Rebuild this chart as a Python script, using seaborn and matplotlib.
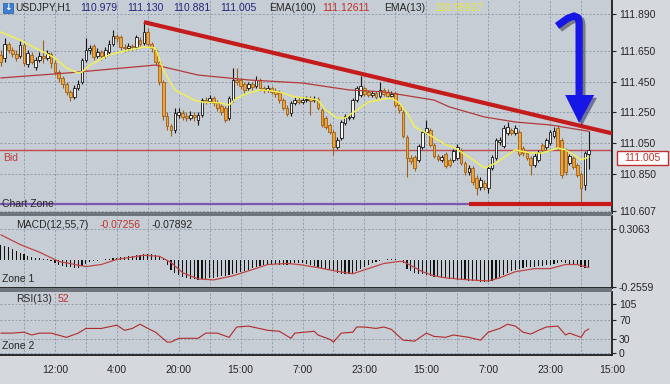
import numpy as np
import pandas as pd
import matplotlib
matplotlib.use("Agg")
import matplotlib.pyplot as plt
import matplotlib.patheffects as pe
from matplotlib.patches import Polygon, Rectangle
import seaborn as sns

# USDJPY H1 candles (index 0 = first visible bar)
opens = [
    111.624, 111.604, 111.695, 111.656, 111.630, 111.617, 111.688, 111.565, 111.624, 111.545,
    111.591, 111.617, 111.604, 111.630, 111.572, 111.513, 111.474, 111.435, 111.383, 111.350,
    111.409, 111.448, 111.591, 111.656, 111.682, 111.617, 111.643, 111.617, 111.643, 111.695,
    111.747, 111.741, 111.676, 111.669, 111.682, 111.676, 111.721, 111.702, 111.773, 111.695,
    111.656, 111.578, 111.448, 111.226, 111.161, 111.135, 111.233, 111.246, 111.226, 111.213,
    111.233, 111.200, 111.233, 111.330, 111.324, 111.343, 111.311, 111.291, 111.278, 111.213,
    111.330, 111.461, 111.461, 111.435, 111.409, 111.435, 111.422, 111.461, 111.409, 111.396,
    111.409, 111.389, 111.376, 111.330, 111.278, 111.246, 111.311, 111.330, 111.317, 111.330,
    111.343, 111.330, 111.337, 111.265, 111.213, 111.168, 111.122, 111.024, 111.083, 111.181,
    111.213, 111.220, 111.330, 111.363, 111.409, 111.383, 111.363, 111.376, 111.357, 111.396,
    111.383, 111.357, 111.376, 111.298, 111.252, 111.089, 110.953, 110.959, 110.940, 111.024,
    111.122, 111.135, 111.037, 110.966, 110.940, 110.979, 110.940, 110.940, 110.953, 111.005,
    110.920, 110.861, 110.887, 110.822, 110.764, 110.790, 110.757, 110.887, 110.953, 111.057,
    111.031, 111.115, 111.135, 111.115, 111.122, 111.018, 110.985, 110.953, 110.907, 110.940,
    111.037, 111.024, 111.050, 111.096, 111.148, 111.070, 111.005, 110.920, 110.953, 110.907,
    110.848, 110.777, 110.979,
]
closes = [
    111.578, 111.695, 111.656, 111.630, 111.604, 111.688, 111.572, 111.637, 111.578, 111.591,
    111.617, 111.604, 111.637, 111.572, 111.513, 111.474, 111.435, 111.383, 111.350, 111.409,
    111.435, 111.591, 111.656, 111.669, 111.611, 111.643, 111.617, 111.656, 111.695, 111.747,
    111.734, 111.676, 111.669, 111.682, 111.676, 111.741, 111.695, 111.773, 111.695, 111.669,
    111.578, 111.448, 111.226, 111.161, 111.135, 111.246, 111.252, 111.220, 111.213, 111.233,
    111.220, 111.233, 111.330, 111.324, 111.343, 111.311, 111.278, 111.252, 111.200, 111.343,
    111.461, 111.448, 111.422, 111.396, 111.435, 111.415, 111.461, 111.409, 111.396, 111.409,
    111.383, 111.370, 111.330, 111.278, 111.239, 111.311, 111.330, 111.317, 111.330, 111.337,
    111.324, 111.337, 111.278, 111.168, 111.155, 111.122, 111.024, 111.070, 111.187, 111.226,
    111.220, 111.330, 111.409, 111.422, 111.370, 111.363, 111.376, 111.350, 111.396, 111.370,
    111.357, 111.370, 111.298, 111.265, 111.096, 110.953, 110.933, 110.887, 111.031, 111.122,
    111.148, 111.037, 110.966, 110.946, 110.959, 110.901, 110.907, 110.998, 111.024, 110.920,
    110.861, 110.887, 110.796, 110.757, 110.809, 110.764, 110.887, 110.959, 111.070, 111.070,
    111.148, 111.155, 111.115, 111.148, 110.979, 110.985, 110.953, 110.907, 110.966, 110.992,
    111.005, 111.070, 111.122, 111.128, 111.018, 110.842, 110.861, 110.966, 110.894, 110.842,
    110.757, 110.985, 111.005,
]
highs = [
    111.656, 111.734, 111.708, 111.676, 111.656, 111.715, 111.702, 111.656, 111.643, 111.611,
    111.643, 111.721, 111.656, 111.643, 111.591, 111.526, 111.487, 111.448, 111.396, 111.428,
    111.461, 111.604, 111.734, 111.688, 111.695, 111.669, 111.656, 111.676, 111.721, 111.786,
    111.760, 111.754, 111.695, 111.702, 111.695, 111.754, 111.741, 111.838, 111.799, 111.708,
    111.669, 111.591, 111.461, 111.252, 111.174, 111.278, 111.278, 111.265, 111.252, 111.259,
    111.252, 111.252, 111.343, 111.350, 111.363, 111.357, 111.330, 111.304, 111.291, 111.357,
    111.539, 111.539, 111.474, 111.448, 111.448, 111.448, 111.487, 111.474, 111.422, 111.428,
    111.422, 111.409, 111.396, 111.343, 111.298, 111.324, 111.350, 111.350, 111.350, 111.357,
    111.357, 111.357, 111.350, 111.278, 111.226, 111.181, 111.135, 111.089, 111.200, 111.239,
    111.239, 111.343, 111.422, 111.487, 111.422, 111.396, 111.389, 111.389, 111.448, 111.409,
    111.402, 111.389, 111.389, 111.311, 111.265, 111.102, 110.972, 110.972, 111.044, 111.135,
    111.200, 111.148, 111.050, 110.979, 110.972, 110.992, 110.953, 111.011, 111.044, 111.018,
    110.933, 110.907, 110.901, 110.842, 110.829, 110.809, 110.907, 110.972, 111.083, 111.089,
    111.168, 111.187, 111.148, 111.168, 111.135, 111.031, 110.998, 110.966, 110.985, 111.005,
    111.050, 111.083, 111.135, 111.155, 111.168, 111.083, 111.018, 110.979, 110.966, 110.920,
    110.861, 110.998, 111.130,
]
lows = [
    111.552, 111.578, 111.637, 111.611, 111.585, 111.604, 111.552, 111.545, 111.565, 111.526,
    111.578, 111.572, 111.591, 111.539, 111.493, 111.448, 111.409, 111.363, 111.324, 111.337,
    111.396, 111.435, 111.578, 111.630, 111.591, 111.604, 111.591, 111.604, 111.624, 111.682,
    111.708, 111.656, 111.643, 111.656, 111.656, 111.663, 111.682, 111.688, 111.682, 111.643,
    111.558, 111.428, 111.200, 111.135, 111.096, 111.115, 111.213, 111.200, 111.194, 111.200,
    111.194, 111.168, 111.220, 111.304, 111.311, 111.291, 111.259, 111.233, 111.187, 111.200,
    111.317, 111.428, 111.402, 111.376, 111.396, 111.396, 111.409, 111.389, 111.376, 111.383,
    111.370, 111.350, 111.311, 111.265, 111.226, 111.226, 111.298, 111.304, 111.304, 111.317,
    111.233, 111.317, 111.265, 111.155, 111.141, 111.109, 110.972, 111.011, 111.070, 111.168,
    111.200, 111.207, 111.317, 111.350, 111.357, 111.350, 111.350, 111.337, 111.343, 111.357,
    111.343, 111.343, 111.285, 111.246, 111.083, 110.829, 110.914, 110.868, 110.927, 111.011,
    111.109, 111.024, 110.953, 110.933, 110.927, 110.887, 110.894, 110.927, 110.940, 110.907,
    110.842, 110.842, 110.777, 110.712, 110.744, 110.744, 110.725, 110.874, 110.940, 111.037,
    111.018, 111.102, 111.102, 111.102, 110.966, 110.966, 110.940, 110.842, 110.894, 110.927,
    110.992, 111.011, 111.037, 111.083, 111.005, 110.822, 110.842, 110.907, 110.881, 110.829,
    110.659, 110.744, 110.881,
]

# indicator lines (bar index, value)
ema13_idx = [0, 5, 11, 14, 17, 20, 21, 23, 28, 33, 37, 40, 42, 45, 50, 52, 57, 59, 61, 64,
             67, 70, 73, 76, 79, 82, 84, 87, 89, 92, 95, 99, 101, 103, 105, 107, 110, 113,
             115, 117, 121, 125, 128, 131, 133, 137, 140, 144, 146, 149, 150, 152]
ema13_vals = [111.773, 111.721, 111.643, 111.604, 111.539, 111.506, 111.513, 111.558, 111.624,
              111.656, 111.676, 111.669, 111.526, 111.396, 111.330, 111.317, 111.311, 111.298,
              111.343, 111.376, 111.396, 111.389, 111.376, 111.350, 111.343, 111.330, 111.265,
              111.213, 111.213, 111.265, 111.317, 111.337, 111.343, 111.311, 111.246, 111.155,
              111.115, 111.070, 111.037, 111.024, 110.959, 110.887, 110.920, 110.972, 111.005,
              110.985, 110.985, 111.018, 111.005, 110.959, 110.940, 110.959]
ema100_idx = [0, 17, 40, 51, 64, 78, 90, 99, 112, 116, 125, 133, 142, 150, 152]
ema100_vals = [111.474, 111.506, 111.558, 111.493, 111.461, 111.441, 111.396, 111.383, 111.330,
               111.285, 111.220, 111.187, 111.168, 111.135, 111.126]

macd_hist = [
    0.155, 0.145, 0.13, 0.11, 0.09, 0.075, 0.06, 0.045, 0.035, 0.025,
    0.02, 0.015, 0.01, -0.01, -0.03, -0.04, -0.05, -0.06, -0.065, -0.07,
    -0.07, -0.05, -0.035, -0.02, -0.01, -0.005, 0.005, 0.01, 0.015, 0.02,
    0.025, 0.03, 0.035, 0.04, 0.045, 0.05, 0.055, 0.06, 0.06, 0.06,
    0.055, 0.04, 0.02, -0.04, -0.09, -0.12, -0.14, -0.16, -0.17, -0.18,
    -0.185, -0.19, -0.185, -0.18, -0.175, -0.17, -0.16, -0.155, -0.15, -0.14,
    -0.13, -0.12, -0.11, -0.10, -0.09, -0.075, -0.06, -0.05, -0.045, -0.04,
    -0.04, -0.035, -0.04, -0.04, -0.04, -0.035, -0.03, -0.03, -0.03, -0.035,
    -0.04, -0.05, -0.06, -0.07, -0.08, -0.09, -0.10, -0.12, -0.13, -0.13,
    -0.13, -0.12, -0.10, -0.08, -0.06, -0.04, -0.03, -0.02, -0.01, 0.005,
    0.01, 0.01, 0.01, 0.005, -0.03, -0.08, -0.10, -0.12, -0.13, -0.135,
    -0.14, -0.15, -0.16, -0.165, -0.17, -0.175, -0.18, -0.185, -0.19, -0.19,
    -0.195, -0.2, -0.2, -0.205, -0.21, -0.21, -0.21, -0.2, -0.18, -0.16,
    -0.14, -0.12, -0.10, -0.09, -0.08, -0.07, -0.065, -0.06, -0.06, -0.055,
    -0.05, -0.045, -0.04, -0.035, -0.025, -0.02, -0.03, -0.035, -0.04, -0.045,
    -0.06, -0.07, -0.07,
]
signal_idx = [0, 5, 10, 15, 22, 26, 30, 37, 41, 44, 47, 51, 55, 60, 65, 69, 74, 77, 82, 86,
              91, 95, 99, 103, 104, 109, 112, 115, 121, 126, 129, 133, 138, 142, 146, 149, 152]
signal_vals = [0.25, 0.155, 0.08, -0.01, -0.06, -0.04, 0.01, 0.05, 0.04, -0.02, -0.12, -0.18,
               -0.19, -0.15, -0.09, -0.04, -0.03, -0.04, -0.07, -0.10, -0.13, -0.08, -0.03,
               -0.01, -0.01, -0.11, -0.15, -0.17, -0.19, -0.20, -0.17, -0.11, -0.08, -0.08,
               -0.04, -0.04, -0.07]

rsi_idx = [0, 3, 6, 8, 10, 13, 17, 20, 22, 26, 30, 32, 34, 36, 38, 40, 43, 44, 46, 51, 53,
           56, 59, 61, 64, 69, 72, 75, 76, 81, 82, 85, 86, 88, 91, 92, 94, 97, 99, 101, 102,
           104, 107, 110, 112, 115, 117, 121, 124, 126, 129, 131, 133, 135, 137, 139, 141,
           144, 146, 147, 150, 151, 152]
rsi_vals = [43, 43, 45, 39, 43, 43, 34, 43, 53, 53, 60, 49, 53, 62, 53, 45, 24, 24, 32, 32, 43,
            43, 34, 56, 58, 49, 47, 32, 43, 47, 39, 30, 24, 43, 45, 56, 56, 53, 56, 51, 43,
            28, 26, 43, 36, 34, 39, 34, 28, 45, 53, 62, 58, 45, 41, 49, 56, 58, 39, 43, 34,
            47, 52]

time_labels = ["12:00", "4:00", "20:00", "15:00", "7:00", "23:00", "15:00", "7:00", "23:00", "15:00"]
price_ticks = [111.890, 111.650, 111.450, 111.250, 111.050, 110.850, 110.607]
macd_ticks = [0.3063, -0.2559]
rsi_ticks = [105, 70, 30, 0]

bid_price = 111.005
zone_price = 110.655
trend_x = [37, 158]
trend_y = [111.838, 111.113]
support_x = [121, 158]

W, H = 670, 384
BG = "#c7cdd5"
GRID = "#8c97a6"
DARK = "#262626"
RED = "#c0302c"


def fpos(x, y):
    return x / W, 1 - y / H


def panel(top, bottom):
    a = fig.add_axes([0, 1 - bottom / H, 612 / W, (bottom - top) / H])
    a.set_facecolor(BG)
    for s in ["left", "top"]:
        a.spines[s].set_visible(False)
    for s in ["right", "bottom"]:
        a.spines[s].set_color("#1c1c1c")
        a.spines[s].set_linewidth(1.3)
    a.set_xlim(-0.2, 158)
    grid_pos = np.arange(6, 159, 8)
    a.set_xticks(grid_pos)
    a.grid(axis="both", ls=(0, (2.5, 2)), color=GRID, lw=0.6)
    a.yaxis.tick_right()
    a.tick_params(axis="y", length=3, width=0.8, pad=2, colors=DARK, labelsize=7.5)
    a.tick_params(axis="x", length=0, labelbottom=False)
    return a


sns.set_theme(style="white")
plt.rcParams["font.family"] = ["Liberation Sans", "DejaVu Sans"]
plt.rcParams["font.size"] = 7.5

fig = plt.figure(figsize=(W / 100, H / 100), dpi=100, facecolor="#d5d9de")

# dark separators between panels
for top, bottom in [(212, 216), (288, 292)]:
    fig.add_artist(Rectangle(fpos(0, bottom), 612 / W, (bottom - top) / H,
                             transform=fig.transFigure, fc="#6f757d", ec="none"))

ax = panel(0, 213)
ax_macd = panel(216, 288)
ax_rsi = panel(292, 355)

# ---- price panel ----
df = pd.DataFrame({"o": opens, "c": closes, "h": highs, "l": lows})
df["i"] = np.arange(len(df))
up = df["c"] >= df["o"]
edge = np.where(up, "#161616", "#9c6018")
ax.vlines(df["i"], df["l"], df["h"], colors=edge, lw=0.8, zorder=3)
ax.bar(df["i"], df["c"] - df["o"], bottom=df["o"], width=0.7,
       color=np.where(up, "#f7f7f7", "#eda53b"), edgecolor=edge, linewidth=0.6, zorder=4)

sns.lineplot(x=ema100_idx, y=ema100_vals, ax=ax, color="#b23a3a", lw=0.9, zorder=5)
sns.lineplot(x=ema13_idx, y=ema13_vals, ax=ax, color="#f0f055", lw=1.1, zorder=5)

ax.axhline(bid_price, color="#c24a4a", lw=1.0, zorder=2)
ax.axhline(zone_price, color="#7a58b2", lw=1.6, zorder=2)
ax.plot(support_x, [zone_price, zone_price], color="#c81818", lw=3, zorder=6,
        solid_capstyle="butt")
ax.plot(trend_x, trend_y, color="#c41c1c", lw=3, zorder=6, solid_capstyle="butt")

# blue hook arrow
arrow_x = [143.8, 146.5, 148.2, 149.3, 149.5, 149.5]
arrow_y = [111.813, 111.862, 111.878, 111.865, 111.840, 111.357]
head_x = [145.9, 153.4, 149.5]
head_y = [111.363, 111.363, 111.181]
ax.plot(arrow_x, arrow_y, color="#1616e6", lw=5.2, solid_joinstyle="round",
        solid_capstyle="butt", zorder=8,
        path_effects=[pe.SimpleLineShadow(offset=(2, -2), alpha=0.45), pe.Normal()])
ax.add_patch(Polygon(list(zip(head_x, head_y)), closed=True, fc="#1616e6", ec="none",
                     zorder=8,
                     path_effects=[pe.SimplePatchShadow(offset=(2, -2), alpha=0.45), pe.Normal()]))

ax.set_ylim(110.594, 111.982)
ax.set_yticks(price_ticks)
ax.set_yticklabels([f"{t:.3f}" for t in price_ticks])
ax.set_xlabel("")
ax.set_ylabel("")

# ---- MACD panel ----
ax_macd.bar(df["i"], macd_hist, width=0.3, color="#111111", linewidth=0, zorder=3)
sns.lineplot(x=signal_idx, y=signal_vals, ax=ax_macd, color="#c04444", lw=0.9, zorder=4)
ax_macd.set_ylim(-0.269, 0.433)
ax_macd.set_yticks(macd_ticks)
ax_macd.set_yticklabels([f"{t:.4f}" for t in macd_ticks])
ax_macd.set_xlabel("")
ax_macd.set_ylabel("")

# ---- RSI panel ----
sns.lineplot(x=rsi_idx, y=rsi_vals, ax=ax_rsi, color="#b02a2a", lw=0.8, zorder=4)
ax_rsi.set_ylim(-3.6, 130.6)
ax_rsi.set_yticks(rsi_ticks)
ax_rsi.set_yticklabels([str(t) for t in rsi_ticks])
ax_rsi.set_xlabel("")
ax_rsi.set_ylabel("")
grid_pos = np.arange(6, 159, 8)
ax_rsi.set_xticks(grid_pos)
ax_rsi.set_xticklabels(["" if k % 2 == 0 else time_labels[k // 2] for k in range(len(grid_pos))])
ax_rsi.tick_params(axis="x", length=0, pad=7, labelbottom=True, colors=DARK, labelsize=7.5)
ax_rsi.set_ylim(-3.6, 130.6)

# ---- texts ----
header = [("USDJPY,H1", 15, DARK), ("110.979", 80, "#25257c"), ("111.130", 127, "#25257c"),
          ("110.881", 173, "#25257c"), ("111.005", 220, "#25257c"), ("EMA(100)", 269, DARK),
          ("111.12611", 322, RED), ("EMA(13)", 384, DARK), ("110.95927", 434, "#e6e63a")]
for txt, x, col in header:
    fig.text(*fpos(x, 8), txt, color=col, fontsize=7.5, ha="left", va="center")
fig.add_artist(Rectangle(fpos(3, 13), 10 / W, 10 / H, transform=fig.transFigure,
                         fc="#3b7fd4", ec="#2a5a9a", lw=0.5))
fig.text(*fpos(8, 8), "\u2193", color="white", fontsize=6.5, fontweight="bold",
         ha="center", va="center", family="DejaVu Sans")

labels = [("Bid", 3, 158, "#c03a3a"), ("Chart Zone", 2, 204, DARK),
          ("MACD(12,55,7)", 16, 225, DARK), ("-0.07256", 100, 225, RED),
          ("-0.07892", 152, 225, DARK), ("Zone 1", 2, 279, DARK),
          ("RSI(13)", 16, 299, DARK), ("52", 58, 299, RED), ("Zone 2", 2, 346, DARK)]
for txt, x, y, col in labels:
    fig.text(*fpos(x, y), txt, color=col, fontsize=7.5, ha="left", va="center")

# current bid price box on the price scale
fig.add_artist(Rectangle(fpos(617, 165), 51 / W, 14 / H, transform=fig.transFigure,
                         fc="white", ec="#c03030", lw=1))
fig.text(*fpos(642.5, 158), "111.005", color=RED, fontsize=7.5, ha="center", va="center")

fig.savefig("out.png", dpi=100, facecolor=fig.get_facecolor())
